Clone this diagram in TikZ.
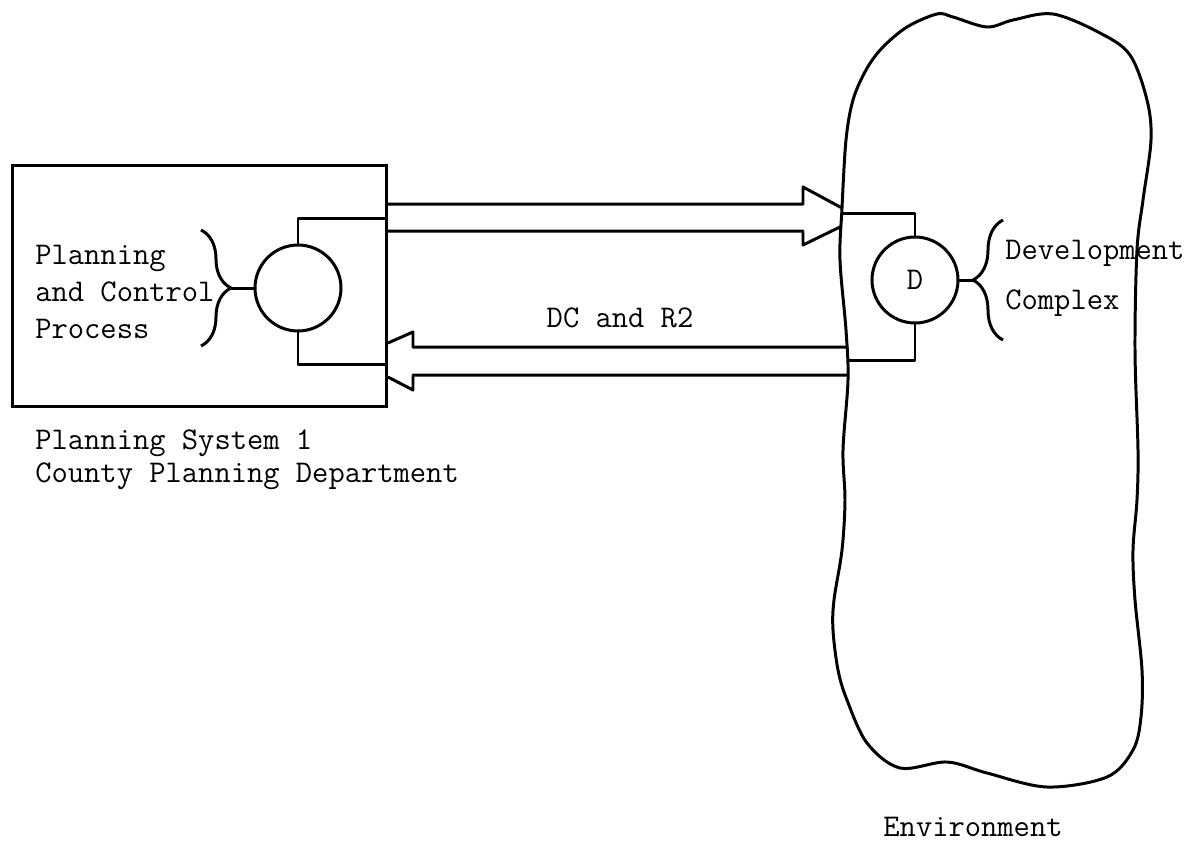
\documentclass[tikz,border=0pt]{standalone}
\usepackage{fontspec}
\usepackage{tikz}
\usetikzlibrary{positioning,calc,decorations.pathreplacing}
\newcommand{\typer}[1]{\ttfamily\fontsize{18}{#1}\selectfont}
\tikzset{
  wire/.style={draw, line width=1.7pt, line join=round},
  psbox/.style={draw, line width=1.7pt, anchor=north west,
                minimum width=7.48cm, minimum height=4.82cm},
  proc/.style={circle, draw, line width=1.7pt, minimum size=1.72cm, inner sep=0pt,
               font=\typer{20}},
  brc/.style={draw, line width=1.7pt, decorate, decoration={brace, amplitude=0.6cm}},
  lbl/.style={font=\typer{21}, align=left, inner sep=0pt},
}

\begin{document}
\begin{tikzpicture}[x=0.02cm, y=-0.02cm]
  \useasboundingbox (0,0) rectangle (1198,843);

  % planning system
  \node[psbox] (psys) at (11,164) {};
  \node[proc] (pc) at (298,288) {};
  \path[brc] (201,230) -- (201,346);
  \coordinate (pbr) at (231,288);
  \node[lbl, anchor=west] (pcp) at (35,292) {Planning\\and Control\\Process};
  \path[wire] (pc.west) -- (pbr);
  \path[wire] (pc.north) |- (psys.east |- 0,218);
  \path[wire] (pc.south) |- (psys.east |- 0,364);
  \node[lbl, font=\typer{19}, anchor=west] (psname) at (35,460)
    {Planning System 1\\County Planning Department};

  % environment
  \path[wire] plot[smooth cycle, tension=0.55] coordinates {
    (842,208) (840,260) (846,330) (848,380) (843,450) (845,500)
    (842,550) (834,600) (833,630) (838,670) (847,700) (867,743) (900,768)
    (947,762) (987,773) (1047,787) (1107,777) (1133,750) (1141,717)
    (1142,670) (1135,600) (1133,550) (1137,500) (1138,450) (1135,350)
    (1137,250) (1143,200) (1151,140) (1147,100) (1130,55) (1100,33) (1053,14)
    (1013,20) (987,27) (953,17) (937,14) (907,27) (882,48) (866,70)
    (853,100) (846,140)};
  \coordinate (envA) at (842,213);
  \coordinate (envB) at (848,360);
  \node[lbl, anchor=base] (envname) at (973,836) {Environment};

  % development complex
  \node[proc] (dev) at (915,280) {D};
  \path[wire] (dev.north) |- (envA);
  \path[wire] (dev.south) |- (envB);
  \path[brc] (1003,340) -- (1003,220);
  \coordinate (dbr) at (973,280);
  \path[wire] (dev.east) -- (dbr);
  \node[lbl, font=\typer{28.5}, anchor=west] (dcx) at (1005,278)
    {Development\\Complex};

  % flows
  \path[wire] (psys.east |- 0,204) -- (803,204) -- (803,187) -- (842,208);
  \path[wire] (psys.east |- 0,231) -- (803,231) -- (803,245) -- (840,227);
  \path[wire] (848,347) -- (413,347) -- (413,332) -- (psys.east |- 0,343);
  \path[wire] (848,375) -- (413,375) -- (413,390) -- (psys.east |- 0,377);
  \node[lbl, anchor=base] (dcr) at (620,327) {DC and R2};
\end{tikzpicture}
\end{document}
